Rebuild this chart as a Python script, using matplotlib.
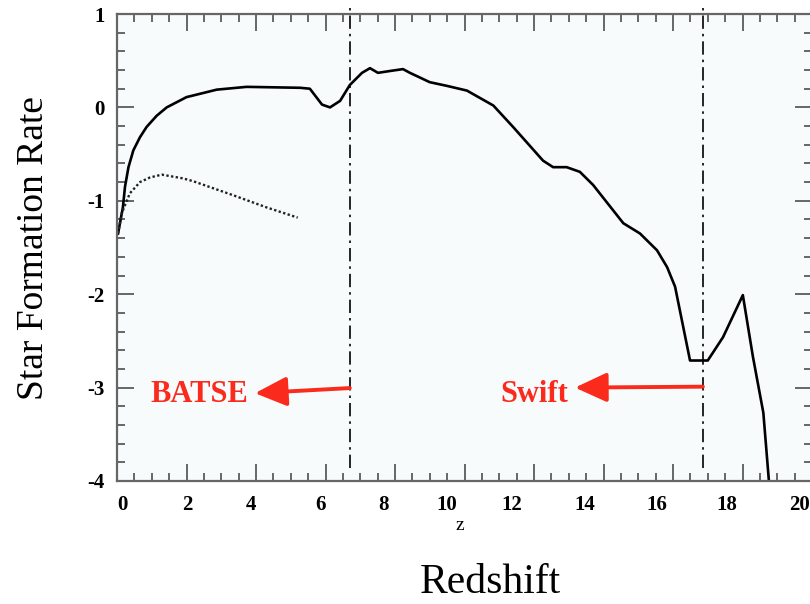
import matplotlib
matplotlib.use('Agg')

import matplotlib.pyplot as plt
from matplotlib.ticker import MultipleLocator


XLIM = (0, 20)
YLIM = (-4, 1)
RED = '#fa2a1c'

# solid curve (star formation rate vs redshift)
sfr_z = [0.03, 0.17, 0.23, 0.33, 0.47, 0.66, 0.85, 1.14, 1.43, 2.0, 2.87,
         3.73, 5.27, 5.55, 5.9, 6.13, 6.42, 6.7, 7.05, 7.28, 7.51, 7.86,
         8.23, 8.43, 9.0, 9.5, 10.07, 10.83, 11.4, 12.26, 12.55, 12.94,
         13.32, 13.7, 14.57, 15.05, 15.54, 15.83, 16.06, 16.49, 17.0, 17.44,
         18.01, 18.3, 18.6, 18.76]
sfr = [-1.35, -1.07, -0.85, -0.64, -0.46, -0.32, -0.21, -0.09, 0.0, 0.11,
       0.19, 0.22, 0.21, 0.2, 0.03, 0.0, 0.07, 0.24, 0.37, 0.42, 0.37, 0.39,
       0.41, 0.37, 0.27, 0.23, 0.18, 0.02, -0.21, -0.57, -0.64, -0.64,
       -0.69, -0.83, -1.24, -1.35, -1.53, -1.71, -1.92, -2.71, -2.71, -2.46,
       -2.01, -2.67, -3.27, -4.0]

# dotted curve
dot_z = [0.03, 0.14, 0.37, 0.66, 0.95, 1.29, 1.9, 2.19, 3.34, 4.3, 5.2]
dot_sfr = [-1.35, -1.13, -0.92, -0.80, -0.75, -0.72, -0.76, -0.79, -0.94,
           -1.07, -1.18]

# detector limits
limit_names = ['BATSE', 'Swift']
limit_z = [6.7, 16.86]
arrow_tip_z = [3.97, 13.18]
arrow_tip_y = [-3.06, -3.0]
arrow_tail_y = [-3.005, -2.99]
label_z = [3.77, 12.98]

x_ticks = [0, 2, 4, 6, 8, 10, 12, 14, 16, 18, 20]
# the printed x labels drift a little left of their tick marks
x_label_pos = [0.17, 2.01, 3.86, 5.87, 7.68, 9.5, 11.37, 13.47, 15.54,
               17.55, 19.65]
y_ticks = [1, 0, -1, -2, -3, -4]

TICK_FONT = dict(family='Liberation Serif', weight='bold', size=15)


def tune_axes(ax):
    ax.set_xlim(*XLIM)
    ax.set_ylim(*YLIM)
    ax.set_facecolor('#f8fbfc')
    for sp in ax.spines.values():
        sp.set_color('#666666')
        sp.set_linewidth(1.6)

    ax.set_xticks(x_ticks)
    ax.set_yticks(y_ticks)
    ax.xaxis.set_minor_locator(MultipleLocator(0.5))
    ax.yaxis.set_minor_locator(MultipleLocator(0.2))
    ax.tick_params(which='both', direction='in', top=True, right=True,
                   color='#666666', width=1.4)
    ax.tick_params(which='major', length=12)
    ax.tick_params(which='minor', length=6)
    ax.tick_params(axis='x', labelbottom=False)
    ax.tick_params(axis='y', which='major', pad=9)
    ax.set_yticklabels([str(t) for t in y_ticks], fontdict=TICK_FONT)

    xtrans = ax.get_xaxis_transform()
    for t, pos in zip(x_ticks, x_label_pos):
        ax.text(pos, -0.052, str(t), transform=xtrans, ha='center',
                va='center', clip_on=False, **TICK_FONT)


def main():
    fig = plt.figure(figsize=(8.1, 6.04), dpi=100)
    ax = fig.add_axes([117 / 810, 123 / 604, 695 / 810, 467 / 604])
    tune_axes(ax)

    ax.plot(sfr_z, sfr, color='black', lw=1.9, solid_joinstyle='round')
    ax.plot(dot_z, dot_sfr, color='#222222', lw=1.7, linestyle=(0, (1, 1)))

    for name, z, tz, ty, tail_y, lz in zip(limit_names, limit_z, arrow_tip_z,
                                           arrow_tip_y, arrow_tail_y, label_z):
        ax.plot([z, z], [-3.86, 1.064], color='black', lw=1.2,
                dashes=(8, 3, 1.5, 3), clip_on=False)
        ax.annotate('', xy=(tz, ty), xytext=(z, tail_y),
                    arrowprops=dict(arrowstyle='-|>,head_length=1.95,head_width=0.9',
                                    mutation_scale=10, lw=2.8, color=RED,
                                    shrinkA=0, shrinkB=0))
        ax.text(lz, -3.155, name, color=RED, ha='right', va='baseline',
                family='Liberation Serif', weight='bold', fontsize=22)

    fig.text(460 / 810, 1 - 525 / 604, 'z', ha='center', va='center',
             family='Liberation Serif', fontsize=14)
    fig.text(490 / 810, 1 - 593 / 604, 'Redshift', ha='center', va='baseline',
             family='Liberation Serif', fontsize=30)
    fig.text(43 / 810, 1 - 248 / 604, 'Star Formation Rate', rotation=90,
             ha='center', va='baseline', rotation_mode='anchor',
             family='Liberation Serif', fontsize=27)

    fig.savefig('out.png', dpi=100)


if __name__ == "__main__":
    main()
